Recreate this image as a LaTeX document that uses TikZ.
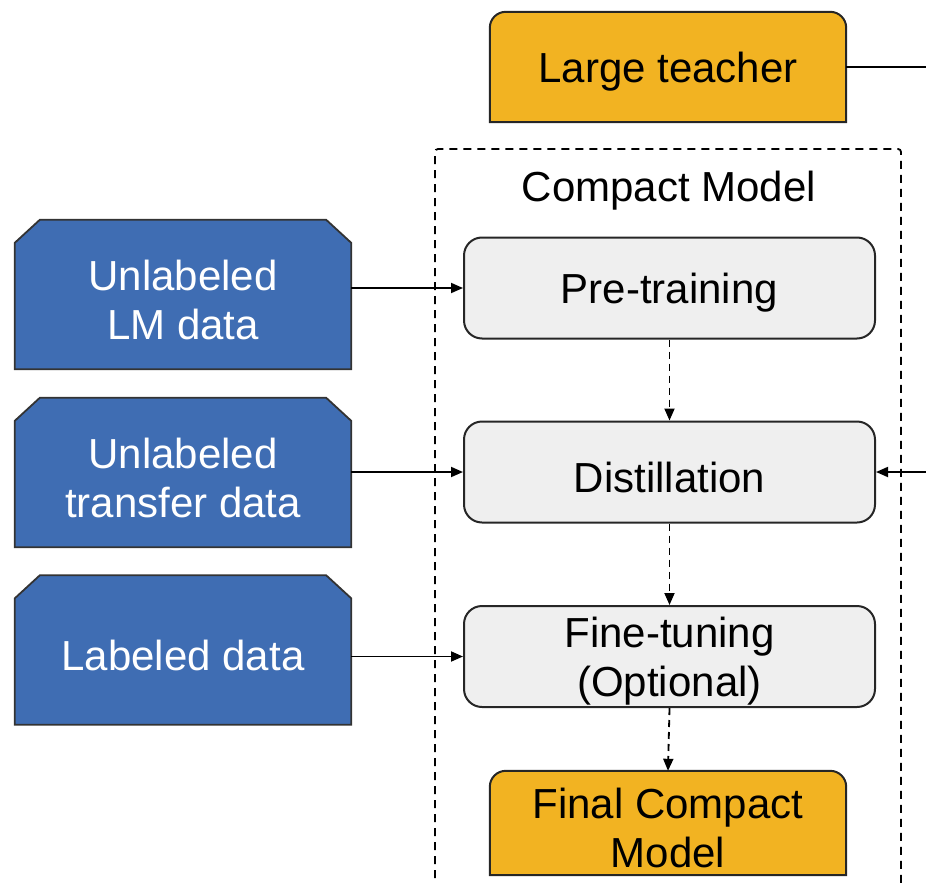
\documentclass[tikz,border=0pt]{standalone}
\usepackage{fontspec}
\setmainfont{Liberation Sans}
\usetikzlibrary{arrows.meta,calc}
\definecolor{bluebox}{HTML}{3F6DB3}
\definecolor{orangebox}{HTML}{F2B322}
\definecolor{greybox}{HTML}{EFEFEF}
\begin{document}
\begin{tikzpicture}[x=1pt,y=1pt,
  font=\fontsize{42}{49}\selectfont,
  greystep/.style={draw=black!85, line width=2pt, fill=greybox, rounded corners=18pt,
    minimum width=411pt, minimum height=101pt, inner sep=0pt},
  lbl/.style={align=center, yshift=-5pt},
  anchorbox/.style={minimum width=#1, inner sep=0pt},
  datafill/.style={fill=bluebox, draw=black!80, line width=1.8pt},
  orangefill/.style={fill=orangebox, draw=black!85, line width=2pt},
  flow/.style={line width=1.8pt, -{Triangle[length=12pt,width=10pt]}},
  dflow/.style={flow, dash pattern=on 7pt off 5pt}
]
\useasboundingbox (0,0) rectangle (926,-883);
\clip (0,0) rectangle (926,-883);

% dashed frame
\draw[line width=1.8pt, dash pattern=on 8pt off 6pt, rounded corners=3pt]
  (435,-920) -- (435,-149) -- (901,-149) -- (901,-920);
\node[lbl] (title) at (669,-186) {Compact Model};

% large teacher
\node[anchorbox=356pt, minimum height=110pt] (teacher) at (668,-67) {};
\draw[orangefill] (teacher.south west) [rounded corners=16pt] -- (teacher.north west)
  -- (teacher.north east) [sharp corners] -- (teacher.south east) -- cycle;
\node[lbl] at (teacher.center) {Large teacher};

% grey steps
\node[greystep] (pre) at (669.5,-288) {};
\node[lbl] at (pre.center) {Pre-training};
\node[greystep] (dist) at (669.5,-472) {};
\node[lbl] at (dist.center) {Distillation};
\node[greystep] (fine) at (669.5,-656.5) {};
\node[lbl] at (fine.center) {Fine-tuning\\(Optional)};

% final compact model
\node[anchorbox=356pt, minimum height=104pt] (final) at (668,-823) {};
\draw[orangefill] (final.south west) [rounded corners=16pt] -- (final.north west)
  -- (final.north east) [sharp corners] -- (final.south east) -- cycle;
\node[lbl] at (final.center) {Final Compact\\Model};

% data boxes
\foreach \n/\y/\t in {d1/-294.5/{Unlabeled\\LM data}, d2/-472.5/{Unlabeled\\transfer data}, d3/-650/{Labeled data}}{
  \node[anchorbox=336pt, minimum height=149pt] (\n) at (183,\y) {};
  \draw[datafill] (\n.south west) -- ([yshift=-23pt]\n.north west)
    -- ([xshift=25pt]\n.north west) -- ([xshift=-25pt]\n.north east)
    -- ([yshift=-23pt]\n.north east) -- (\n.south east) -- cycle;
  \node[lbl, text=white] at (\n.center) {\t};
}

% connectors
\draw[flow] (pre.west -| d1.east) -- (pre.west);
\draw[flow] (dist.west -| d2.east) -- (dist.west);
\draw[flow] (fine.west -| d3.east) -- (fine.west);
\draw[dflow] (pre.south) -- (dist.north);
\draw[dflow] (dist.south) -- (fine.north);
\draw[dflow] (fine.south) -- (final.north);

\coordinate (tr) at (927,-67);
\coordinate (br) at (927,-472);
\draw[line width=1.8pt] (teacher.east) -- (tr) -- (br);
\draw[flow] (br) -- (dist.east);
\end{tikzpicture}
\end{document}
